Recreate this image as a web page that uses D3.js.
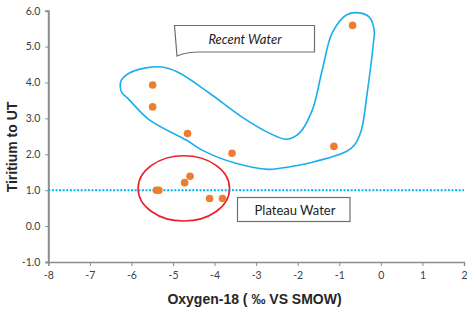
<!DOCTYPE html>
<html>
<head>
<meta charset="utf-8">
<script src="https://cdn.jsdelivr.net/npm/d3@7"></script>
<style>
  body { margin: 0; background: #fff; }
  svg { display: block; }
</style>
</head>
<body>
<div id="chart"></div>
<script>
// Oxygen-18 vs tritium scatter, with hand-drawn groupings

const width = 472, height = 313;

const oxygen18 = [-5.49, -5.49, -4.65, -3.58, -0.68, -1.13, -5.40, -5.34, -4.72, -4.59, -4.12, -3.81];
const tritium  = [3.93, 3.32, 2.58, 2.03, 5.59, 2.22, 1.00, 1.00, 1.21, 1.39, 0.77, 0.77];

const xTicks = [-8, -7, -6, -5, -4, -3, -2, -1, 0, 1, 2];
const yTicks = [-1, 0, 1, 2, 3, 4, 5, 6];

// outline of the "recent water" group (data units)
const recentX = [-6.27, -6.24, -6.07, -5.68, -5.27, -4.89, -4.12, -3.33, -2.68, -2.27, -1.96, -1.65, -1.41, -1.17, -0.83, -0.52, -0.28, -0.16, -0.18, -0.33, -0.47, -0.64, -0.83, -1.65, -2.43, -2.70, -3.49, -4.29, -4.67, -5.56, -6.08, -6.23];
const recentY = [3.88, 4.07, 4.25, 4.40, 4.43, 4.29, 3.70, 3.03, 2.59, 2.42, 2.59, 3.23, 4.35, 5.38, 5.88, 5.94, 5.82, 5.46, 5.10, 3.70, 2.67, 2.25, 2.08, 1.78, 1.61, 1.58, 1.75, 2.11, 2.39, 2.95, 3.55, 3.72];

// plateau ellipse: centre and radii in data units
const plateau = { cx: -4.74, cy: 1.05, rx: 1.10, ry: 0.91 };
const plateauLevel = 1.0;

const margin = { top: 10.7, right: 8, bottom: 51, left: 48.3 };

const svg = d3.select("#chart")
  .append("svg")
  .attr("width", width)
  .attr("height", height);

const x = d3.scaleLinear()
  .domain([-8, 2])
  .range([margin.left, width - margin.right]);

const y = d3.scaleLinear()
  .domain([-1, 6])
  .range([height - margin.bottom, margin.top]);

const font = "Lato, 'Open Sans', sans-serif";

// x axis
const xAxis = svg.append("g")
  .attr("transform", `translate(0,${y(-1)})`)
  .call(d3.axisBottom(x).tickValues(xTicks).tickSize(4).tickPadding(6).tickFormat(d => String(d)));
xAxis.select(".domain").attr("stroke", "#8c8c8c").attr("stroke-width", 1.3);
xAxis.selectAll(".tick line").attr("stroke", "#8c8c8c");
xAxis.selectAll("text").attr("font-family", font).attr("font-size", 10.5).attr("fill", "#404040");

// y axis
const yAxis = svg.append("g")
  .attr("transform", `translate(${x(-8)},0)`)
  .call(d3.axisLeft(y).tickValues(yTicks).tickSize(3).tickPadding(5).tickFormat(d => d.toFixed(1)));
yAxis.select(".domain").attr("stroke", "#8c8c8c").attr("stroke-width", 2);
yAxis.selectAll(".tick line").attr("stroke", "#8c8c8c");
yAxis.selectAll("text").attr("font-family", font).attr("font-size", 10.5).attr("fill", "#404040");

// dotted plateau level
svg.append("line")
  .attr("x1", x(-8)).attr("x2", x(2))
  .attr("y1", y(plateauLevel)).attr("y2", y(plateauLevel))
  .attr("stroke", "#00b0f0")
  .attr("stroke-width", 2)
  .attr("stroke-dasharray", "2,1.6");

// recent water outline
const outline = d3.line()
  .x(i => x(recentX[i]))
  .y(i => y(recentY[i]))
  .curve(d3.curveCatmullRomClosed);

svg.append("path")
  .attr("d", outline(d3.range(recentX.length)))
  .attr("fill", "none")
  .attr("stroke", "#1aaeea")
  .attr("stroke-width", 1.6);

// plateau ellipse
svg.append("ellipse")
  .attr("cx", x(plateau.cx))
  .attr("cy", y(plateau.cy))
  .attr("rx", x(plateau.cx + plateau.rx) - x(plateau.cx))
  .attr("ry", y(plateau.cy - plateau.ry) - y(plateau.cy))
  .attr("fill", "none")
  .attr("stroke", "#e8202a")
  .attr("stroke-width", 1.6);

// points
svg.append("g")
  .selectAll("circle")
  .data(d3.range(oxygen18.length))
  .join("circle")
  .attr("cx", i => x(oxygen18[i]))
  .attr("cy", i => y(tritium[i]))
  .attr("r", 3.8)
  .attr("fill", "#ed7d31");

// "Recent Water" scroll label
const rw = svg.append("g");
rw.append("path")
  .attr("d", "M174.5,25.5 L314.5,25.5 L314.5,52 L200,52 Q186,52 177,56 Z")
  .attr("fill", "#fff")
  .attr("stroke", "#6f6f6f")
  .attr("stroke-width", 1.2);
rw.append("text")
  .attr("x", 245).attr("y", 39)
  .attr("dy", "0.35em")
  .attr("text-anchor", "middle")
  .attr("font-family", font)
  .attr("font-style", "italic")
  .attr("font-size", 13)
  .attr("fill", "#222")
  .text("Recent Water");

// "Plateau Water" label
const pw = svg.append("g");
pw.append("rect")
  .attr("x", 237.5).attr("y", 197.5)
  .attr("width", 112.5).attr("height", 24)
  .attr("fill", "#fff")
  .attr("stroke", "#6f6f6f")
  .attr("stroke-width", 1.2);
pw.append("text")
  .attr("x", 295).attr("y", 210)
  .attr("dy", "0.35em")
  .attr("text-anchor", "middle")
  .attr("font-family", font)
  .attr("font-size", 13)
  .attr("fill", "#222")
  .text("Plateau Water");

// axis titles
svg.append("text")
  .attr("x", 254.5).attr("y", 299)
  .attr("dy", "0.35em")
  .attr("text-anchor", "middle")
  .attr("font-family", "'Liberation Sans', Arial, sans-serif")
  .attr("font-weight", "bold")
  .attr("font-size", 14)
  .attr("fill", "#262626")
  .text("Oxygen-18 ( ‰ VS SMOW)");

svg.append("text")
  .attr("transform", "translate(12,147) rotate(-90)")
  .attr("dy", "0.35em")
  .attr("text-anchor", "middle")
  .attr("font-family", "'Liberation Sans', Arial, sans-serif")
  .attr("font-weight", "bold")
  .attr("font-size", 14)
  .attr("fill", "#262626")
  .text("Tiritium to UT");
</script>
</body>
</html>
